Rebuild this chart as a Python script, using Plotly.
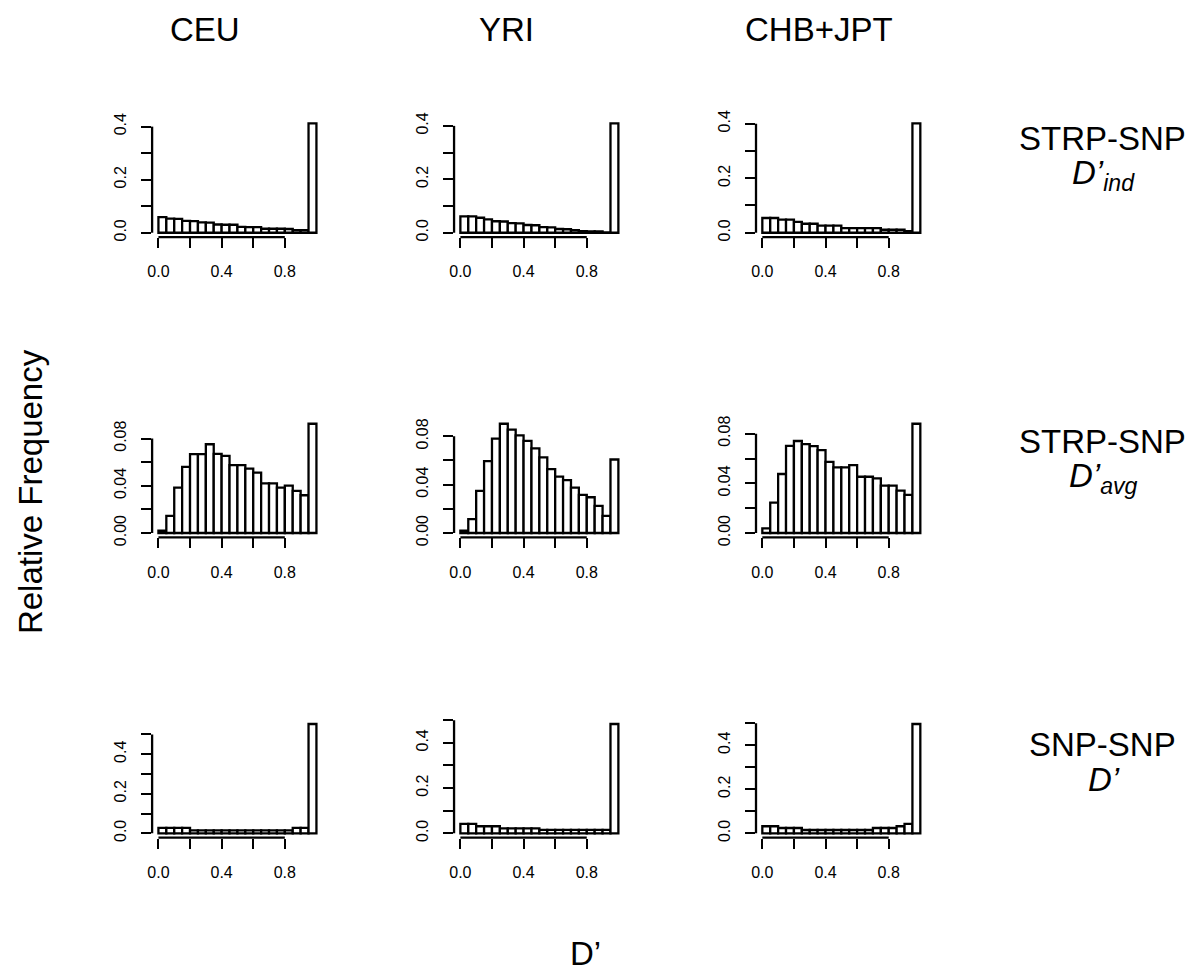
import plotly.graph_objects as go

# ---------------- data ----------------
bin_edges = [0.00, 0.05, 0.10, 0.15, 0.20, 0.25, 0.30, 0.35, 0.40, 0.45, 0.50,
             0.55, 0.60, 0.65, 0.70, 0.75, 0.80, 0.85, 0.90, 0.95, 1.00]

populations = ["CEU", "YRI", "CHB+JPT"]
row_titles = ["STRP-SNP", "STRP-SNP", "SNP-SNP"]
row_measures = ["<i>D’<sub>ind</sub></i>", "<i>D’<sub>avg</sub></i>", "<i>D’</i>"]

# STRP-SNP D'ind
ceu_ind = [0.059, 0.053, 0.052, 0.045, 0.044, 0.039, 0.038, 0.031, 0.030, 0.030,
           0.022, 0.021, 0.021, 0.015, 0.015, 0.015, 0.014, 0.010, 0.010, 0.412]
yri_ind = [0.061, 0.061, 0.056, 0.050, 0.043, 0.042, 0.036, 0.035, 0.029, 0.028,
           0.021, 0.020, 0.014, 0.013, 0.010, 0.006, 0.005, 0.005, 0.001, 0.409]
chb_ind = [0.054, 0.054, 0.048, 0.048, 0.040, 0.033, 0.033, 0.026, 0.026, 0.026,
           0.017, 0.017, 0.017, 0.017, 0.017, 0.011, 0.011, 0.011, 0.006, 0.401]

# STRP-SNP D'avg
ceu_avg = [0.002, 0.0146, 0.0385, 0.0561, 0.0668, 0.0668, 0.0752, 0.0670, 0.0654, 0.0575,
           0.0575, 0.0545, 0.0511, 0.0421, 0.0421, 0.0385, 0.0402, 0.0357, 0.0320, 0.0926]
yri_avg = [0.0019, 0.0115, 0.0348, 0.0595, 0.0780, 0.0904, 0.0855, 0.0808, 0.0762, 0.0700,
           0.0625, 0.0529, 0.0466, 0.0438, 0.0375, 0.0315, 0.0296, 0.0225, 0.0142, 0.0608]
chb_avg = [0.0037, 0.0245, 0.0475, 0.0701, 0.0741, 0.0715, 0.0699, 0.0667, 0.0573, 0.0528,
           0.0528, 0.0547, 0.0453, 0.0453, 0.0440, 0.0381, 0.0381, 0.0341, 0.0307, 0.0880]

# SNP-SNP D'
ceu_snp = [0.027, 0.027, 0.027, 0.027, 0.015, 0.015, 0.015, 0.015, 0.015, 0.015,
           0.015, 0.015, 0.015, 0.015, 0.015, 0.015, 0.015, 0.027, 0.027, 0.5525]
yri_snp = [0.0415, 0.0415, 0.031, 0.031, 0.031, 0.022, 0.022, 0.022, 0.022, 0.022,
           0.015, 0.015, 0.015, 0.015, 0.015, 0.015, 0.015, 0.015, 0.015, 0.483]
chb_snp = [0.032, 0.032, 0.024, 0.024, 0.024, 0.015, 0.015, 0.015, 0.015, 0.015,
           0.015, 0.015, 0.015, 0.015, 0.024, 0.024, 0.024, 0.032, 0.0426, 0.496]

grid_values = [
    [ceu_ind, yri_ind, chb_ind],
    [ceu_avg, yri_avg, chb_avg],
    [ceu_snp, yri_snp, chb_snp],
]

x_tickvals = [0.0, 0.2, 0.4, 0.6, 0.8]
x_ticktext = ["0.0", " ", "0.4", " ", "0.8"]
row_tickvals = [
    [0.0, 0.1, 0.2, 0.3, 0.4],
    [0.0, 0.02, 0.04, 0.06, 0.08],
    [0.0, 0.1, 0.2, 0.3, 0.4, 0.5],
]
row_ticktext = [
    ["0.0", " ", "0.2", " ", "0.4"],
    ["0.00", " ", "0.04", " ", "0.08"],
    ["0.0", " ", "0.2", " ", "0.4", " "],
]

# ---------------- layout geometry ----------------
FW, FH = 1194, 973
# calibration from reference-pixel positions to figure pixels
SX, OXC = 0.995, 13.0
SY, OYC = 0.9855, 15.0


def px(x):
    return ((x - OXC) / SX) / FW


def py(y):
    return 1 - ((y - OYC) / SY) / FH


col_left = [152.0, 453.7, 755.4]
panel_w = 170.5
row_top = [117.5, 419.0, 720.5]
panel_h = 118.5

FONT = "Liberation Sans, Arial, Helvetica, sans-serif"
TICKFONT = dict(family=FONT, size=16, color="black")
BIG = dict(family=FONT, size=33, color="black")
LW = 2.3

centers = [(a + b) / 2 for a, b in zip(bin_edges[:-1], bin_edges[1:])]
widths = [b - a for a, b in zip(bin_edges[:-1], bin_edges[1:])]

fig = go.Figure()
layout = dict(
    width=FW, height=FH,
    margin=dict(l=0, r=0, t=0, b=0),
    paper_bgcolor="white", plot_bgcolor="white",
    showlegend=False,
    font=dict(family=FONT, color="black"),
)
shapes = []
annotations = []

n = 0
for r in range(3):
    for c in range(3):
        n += 1
        vals = grid_values[r][c]
        xa = "x" if n == 1 else f"x{n}"
        ya = "y" if n == 1 else f"y{n}"
        xkey = "xaxis" if n == 1 else f"xaxis{n}"
        ykey = "yaxis" if n == 1 else f"yaxis{n}"
        fig.add_trace(go.Bar(
            x=centers, y=vals, width=widths,
            marker=dict(color="white", line=dict(color="black", width=LW)),
            xaxis=xa, yaxis=ya, hoverinfo="x+y",
        ))
        m = max(vals)
        left = col_left[c]
        top = row_top[r]
        layout[xkey] = dict(
            domain=[px(left), px(left + panel_w)],
            range=[-0.04, 1.04], anchor=ya,
            showgrid=False, zeroline=False, showline=False,
            ticks="outside", ticklen=10, tickwidth=LW, tickcolor="black",
            tickvals=x_tickvals, ticktext=x_ticktext, tickfont=TICKFONT,
            ticklabelstandoff=10, fixedrange=True,
        )
        layout[ykey] = dict(
            domain=[py(top + panel_h), py(top)],
            range=[-0.04 * m, 1.04 * m], anchor=xa,
            showgrid=False, zeroline=False, showline=False,
            ticks="outside", ticklen=10, tickwidth=LW, tickcolor="black",
            tickvals=row_tickvals[r], ticktext=row_ticktext[r], tickfont=TICKFONT,
            tickangle=-90, ticklabelstandoff=9, fixedrange=True,
        )
        # R-style axis lines spanning first..last tick
        shapes.append(dict(type="line", xref=f"{xa} domain", yref=ya,
                           x0=0, x1=0, y0=row_tickvals[r][0], y1=row_tickvals[r][-1],
                           line=dict(color="black", width=LW)))
        shapes.append(dict(type="line", xref=xa, yref=f"{ya} domain",
                           x0=x_tickvals[0], x1=x_tickvals[-1], y0=0, y1=0,
                           line=dict(color="black", width=LW)))

# column headers
header_x = [205, 506, 818]
for c in range(3):
    annotations.append(dict(text=populations[c], x=px(header_x[c]), y=py(28),
                            xref="paper", yref="paper", showarrow=False,
                            xanchor="center", yanchor="middle", font=BIG))

# row labels (title line, measure line)
title_y = [137, 441, 745]
measure_y = [174, 478, 781]
for r in range(3):
    annotations.append(dict(text=row_titles[r], x=px(1102), y=py(title_y[r]),
                            xref="paper", yref="paper", showarrow=False,
                            xanchor="center", yanchor="middle", font=BIG))
    annotations.append(dict(text=row_measures[r], x=px(1103), y=py(measure_y[r]),
                            xref="paper", yref="paper", showarrow=False,
                            xanchor="center", yanchor="middle", font=BIG))

annotations.append(dict(text="Relative Frequency", x=px(30), y=py(492),
                        xref="paper", yref="paper", showarrow=False, textangle=-90,
                        xanchor="center", yanchor="middle", font=BIG))
annotations.append(dict(text="D’", x=px(585), y=py(955),
                        xref="paper", yref="paper", showarrow=False,
                        xanchor="center", yanchor="middle", font=BIG))

layout["shapes"] = shapes
layout["annotations"] = annotations
fig.update_layout(**layout)
fig.write_html("out.html")
